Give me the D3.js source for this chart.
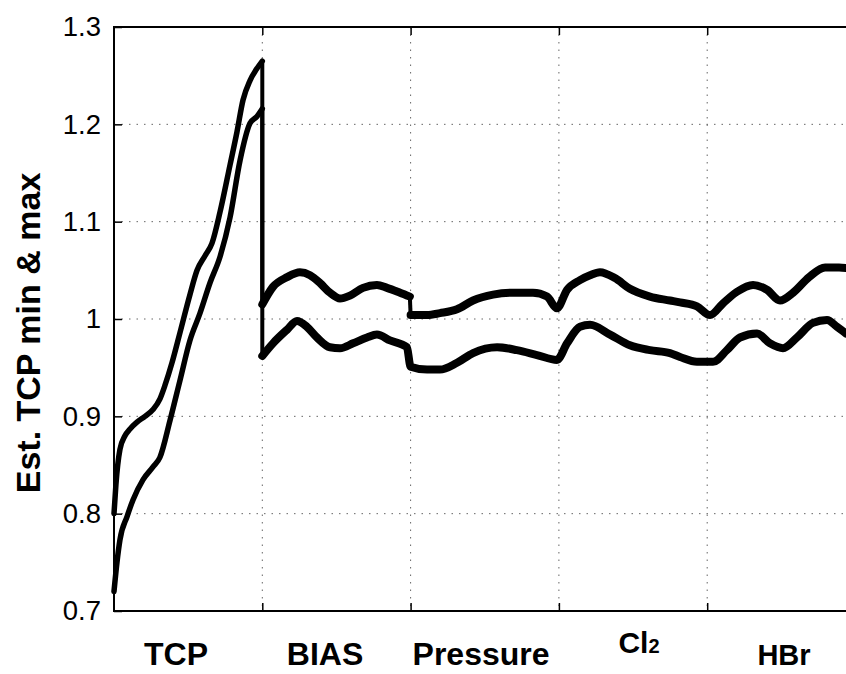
<!DOCTYPE html>
<html>
<head>
<meta charset="utf-8">
<script src="https://cdn.jsdelivr.net/npm/d3@7"></script>
<style>
  body { margin: 0; background: #fff; }
  svg { display: block; font-family: "Liberation Sans", Arial, sans-serif; }
</style>
</head>
<body>
<svg id="chart" width="846" height="674"></svg>
<script>
// x is in "step" units: each process knob occupies one unit
var maxX = [0, 0.013, 0.040, 0.074, 0.108, 0.155, 0.209, 0.263, 0.310, 0.344, 0.391, 0.445, 0.512, 0.560,
    0.614, 0.661, 0.715, 0.782, 0.829, 0.870, 0.917, 0.958, 1.0,
    1.0, 1.072, 1.167, 1.254, 1.322, 1.389, 1.456, 1.524, 1.591, 1.679, 1.773, 1.841, 1.929, 1.995,
    2.0, 2.111, 2.198, 2.313, 2.421, 2.556, 2.690, 2.825, 2.920, 2.987, 3.055, 3.142, 3.210, 3.277,
    3.378, 3.479, 3.614, 3.749, 3.817, 3.931, 4.019, 4.106, 4.201, 4.309, 4.403, 4.491, 4.579, 4.687,
    4.795, 4.889, 4.95];
var maxVals = [0.800, 0.830, 0.866, 0.880, 0.887, 0.894, 0.900, 0.907, 0.918, 0.932, 0.955, 0.986, 1.025, 1.050,
    1.065, 1.078, 1.110, 1.158, 1.192, 1.225, 1.245, 1.256, 1.265,
    1.015, 1.033, 1.043, 1.048, 1.045, 1.037, 1.027, 1.021, 1.024, 1.032, 1.035, 1.032, 1.027, 1.023,
    1.004, 1.004, 1.006, 1.010, 1.019, 1.025, 1.027, 1.027, 1.023, 1.011, 1.030, 1.040, 1.045, 1.048,
    1.042, 1.031, 1.023, 1.019, 1.017, 1.013, 1.004, 1.016, 1.028, 1.035, 1.030, 1.019, 1.027, 1.043,
    1.053, 1.053, 1.052];

var minX = [0, 0.020, 0.040, 0.088, 0.128, 0.196, 0.263, 0.310, 0.378, 0.445, 0.512, 0.580, 0.647, 0.715,
    0.782, 0.850, 0.917, 0.964, 1.0,
    1.0, 1.072, 1.167, 1.234, 1.301, 1.369, 1.456, 1.524, 1.612, 1.706, 1.773, 1.861, 1.975,
    2.0, 2.111, 2.198, 2.313, 2.421, 2.583, 2.717, 2.852, 2.987, 3.055, 3.142, 3.210, 3.345, 3.479,
    3.614, 3.749, 3.817, 3.931, 4.039, 4.133, 4.221, 4.336, 4.423, 4.511, 4.605, 4.713, 4.808, 4.875, 4.936];
var minVals = [0.720, 0.750, 0.773, 0.797, 0.814, 0.835, 0.848, 0.858, 0.896, 0.937, 0.978, 1.006, 1.037, 1.064,
    1.104, 1.163, 1.201, 1.208, 1.216,
    0.962, 0.975, 0.989, 0.998, 0.992, 0.981, 0.971, 0.970, 0.975, 0.981, 0.984, 0.978, 0.971,
    0.951, 0.948, 0.948, 0.955, 0.965, 0.971, 0.968, 0.963, 0.958, 0.975, 0.992, 0.994, 0.984, 0.973,
    0.968, 0.965, 0.961, 0.956, 0.956, 0.968, 0.981, 0.985, 0.975, 0.970, 0.981, 0.996, 0.999, 0.992, 0.985];

var yTicks = [0.7, 0.8, 0.9, 1, 1.1, 1.2, 1.3];
var stepTicks = [1, 2, 3, 4];
var stepNames = ["TCP", "BIAS", "Pressure", "Cl2", "HBr"];
var stepLabelPos = [0.418, 1.423, 2.475, 3.54, 4.518];

var svg = d3.select("#chart");
var plotL = 114, plotT = 27, plotB = 611, plotR = 846;

var x = d3.scaleLinear().domain([0, 5]).range([plotL, plotL + 5 * 148.3]);
var y = d3.scaleLinear().domain([0.7, 1.3]).range([plotB, plotT]);

// Grid
var grid = svg.append("g").attr("stroke", "#666").attr("stroke-width", 1)
    .attr("stroke-dasharray", "1.5,6");
grid.selectAll(".hg").data(yTicks.slice(1, -1)).enter().append("line")
    .attr("x1", plotL).attr("x2", plotR)
    .attr("y1", d => y(d)).attr("y2", d => y(d));
grid.selectAll(".vg").data(stepTicks).enter().append("line")
    .attr("x1", d => x(d)).attr("x2", d => x(d))
    .attr("y1", plotT).attr("y2", plotB);

// Axes (ticks pointing inward)
var yAxis = svg.append("g").attr("transform", "translate(" + plotL + ",0)")
    .call(d3.axisLeft(y).tickValues(yTicks).tickSizeInner(-8).tickSizeOuter(0)
        .tickPadding(13).tickFormat(d => String(d)));
yAxis.select(".domain").remove();
yAxis.selectAll("line").attr("stroke", "#000").attr("stroke-width", 1.5);
yAxis.selectAll("text").attr("font-size", 27.5).attr("fill", "#000")
    .attr("font-family", "Liberation Sans, Arial, sans-serif");

var xAxis = svg.append("g").attr("transform", "translate(0," + plotB + ")")
    .call(d3.axisBottom(x).tickValues(stepTicks).tickSizeInner(-8).tickSizeOuter(0).tickFormat(""));
xAxis.select(".domain").remove();
xAxis.selectAll("line").attr("stroke", "#000").attr("stroke-width", 1.5);

var xTop = svg.append("g").attr("transform", "translate(0," + plotT + ")")
    .call(d3.axisTop(x).tickValues(stepTicks).tickSizeInner(-8).tickSizeOuter(0).tickFormat(""));
xTop.select(".domain").remove();
xTop.selectAll("line").attr("stroke", "#000").attr("stroke-width", 1.5);

// Box
svg.append("path")
    .attr("d", "M" + plotR + "," + plotT + "H" + plotL + "V" + plotB + "H" + plotR)
    .attr("fill", "none").attr("stroke", "#000").attr("stroke-width", 2);

// Curves: smooth runs between the step jumps, straight vertical jumps
var smooth = d3.line().x(d => x(d[0])).y(d => y(d[1])).curve(d3.curveMonotoneX);
var straight = d3.line().x(d => x(d[0])).y(d => y(d[1]));

function drawSeries(xs, vs) {
    var pts = xs.map((d, i) => [d, vs[i]]);
    var runs = [[pts[0]]];
    for (var i = 1; i < pts.length; i++) {
        if (pts[i][0] - pts[i - 1][0] < 0.006) runs.push([]);
        runs[runs.length - 1].push(pts[i]);
    }
    runs.forEach(function (run, k) {
        var w = run[0][0] < 1 ? 5.5 : 8;
        svg.append("path").datum(run).attr("d", smooth)
            .attr("fill", "none").attr("stroke", "#000").attr("stroke-width", w)
            .attr("stroke-linejoin", "round").attr("stroke-linecap", "round");
        if (k > 0) {
            var prev = runs[k - 1];
            svg.append("path").datum([prev[prev.length - 1], run[0]]).attr("d", straight)
                .attr("fill", "none").attr("stroke", "#000").attr("stroke-width", 4);
        }
    });
}
drawSeries(maxX, maxVals);
drawSeries(minX, minVals);

// Step labels
var labels = svg.append("g").attr("font-weight", "bold").attr("fill", "#000")
    .attr("text-anchor", "middle");
stepNames.forEach(function (name, i) {
    var t = labels.append("text").attr("x", x(stepLabelPos[i]));
    if (name === "Cl2") {
        t.attr("y", 653).attr("font-size", 30);
        t.append("tspan").text("Cl");
        t.append("tspan").attr("font-size", 20).text("2");
    } else {
        t.attr("y", 665).attr("font-size", name === "HBr" ? 29 : 32).text(name);
    }
});

// Y label
svg.append("text")
    .attr("transform", "translate(40,333) rotate(-90)")
    .attr("text-anchor", "middle").attr("font-weight", "bold").attr("font-size", 34)
    .text("Est. TCP min & max");
</script>
</body>
</html>
